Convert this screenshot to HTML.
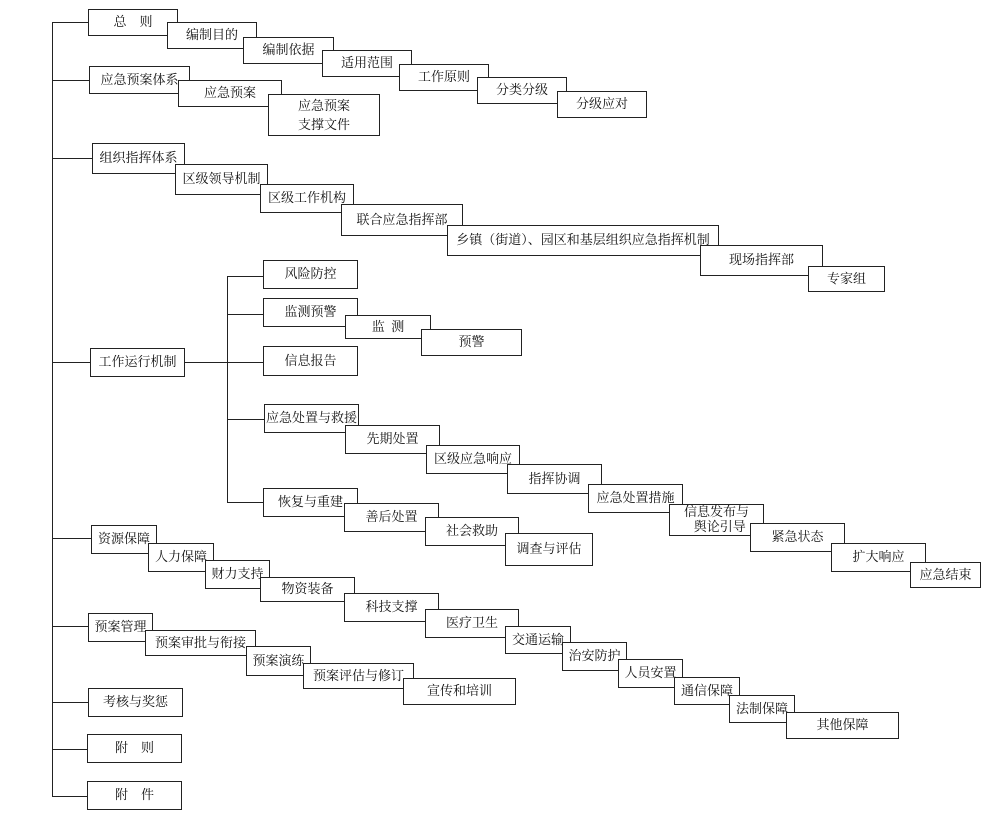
<!DOCTYPE html>
<html><head><meta charset="utf-8"><style>
body{margin:0;background:#fff;}
#c{position:relative;width:987px;height:817px;overflow:hidden;font-family:"Liberation Serif","Noto Serif CJK SC","Noto Sans CJK SC",serif;color:#111;}
.b{position:absolute;border:1.4px solid #222;background:#fff;box-sizing:border-box;font-size:13px;display:flex;align-items:center;justify-content:center;white-space:nowrap;line-height:1.4;padding-top:0px;text-align:center;}
.h{position:absolute;height:1.4px;background:#222;}
.v{position:absolute;width:1.4px;background:#222;}
</style></head><body><div id="c">
<div class="v" style="left:52px;top:22px;height:775px"></div>
<div class="h" style="left:52px;top:22px;width:36px"></div>
<div class="h" style="left:52px;top:80px;width:37px"></div>
<div class="h" style="left:52px;top:158px;width:40px"></div>
<div class="h" style="left:52px;top:362px;width:38px"></div>
<div class="h" style="left:52px;top:538px;width:39px"></div>
<div class="h" style="left:52px;top:626px;width:36px"></div>
<div class="h" style="left:52px;top:702px;width:36px"></div>
<div class="h" style="left:52px;top:749px;width:35px"></div>
<div class="h" style="left:52px;top:796px;width:35px"></div>
<div class="h" style="left:185px;top:362px;width:43px"></div>
<div class="v" style="left:227px;top:276px;height:227px"></div>
<div class="h" style="left:227px;top:276px;width:36px"></div>
<div class="h" style="left:227px;top:314px;width:36px"></div>
<div class="h" style="left:227px;top:362px;width:36px"></div>
<div class="h" style="left:227px;top:419px;width:37px"></div>
<div class="h" style="left:227px;top:502px;width:36px"></div>

<div class="b" style="left:88px;top:9px;width:90px;height:27px">总&nbsp;&nbsp;&nbsp;&nbsp;则</div>
<div class="b" style="left:167px;top:22px;width:90px;height:27px">编制目的</div>
<div class="b" style="left:243px;top:37px;width:91px;height:27px">编制依据</div>
<div class="b" style="left:322px;top:50px;width:90px;height:27px">适用范围</div>
<div class="b" style="left:399px;top:64px;width:90px;height:27px">工作原则</div>
<div class="b" style="left:477px;top:77px;width:90px;height:27px">分类分级</div>
<div class="b" style="left:557px;top:91px;width:90px;height:27px">分级应对</div>

<div class="b" style="left:89px;top:66px;width:101px;height:28px">应急预案体系</div>
<div class="b" style="left:178px;top:80px;width:104px;height:27px">应急预案</div>
<div class="b" style="left:268px;top:94px;width:112px;height:42px;line-height:1.5">应急预案<br>支撑文件</div>

<div class="b" style="left:92px;top:143px;width:93px;height:31px">组织指挥体系</div>
<div class="b" style="left:175px;top:164px;width:93px;height:31px">区级领导机制</div>
<div class="b" style="left:260px;top:184px;width:94px;height:29px">区级工作机构</div>
<div class="b" style="left:341px;top:204px;width:122px;height:32px">联合应急指挥部</div>
<div class="b" style="left:447px;top:225px;width:272px;height:31px">乡镇（街道）、园区和基层组织应急指挥机制</div>
<div class="b" style="left:700px;top:245px;width:123px;height:31px">现场指挥部</div>
<div class="b" style="left:808px;top:266px;width:77px;height:26px">专家组</div>

<div class="b" style="left:90px;top:348px;width:95px;height:29px">工作运行机制</div>
<div class="b" style="left:263px;top:260px;width:95px;height:29px">风险防控</div>
<div class="b" style="left:263px;top:298px;width:95px;height:29px">监测预警</div>
<div class="b" style="left:345px;top:315px;width:86px;height:24px">监&nbsp;&nbsp;测</div>
<div class="b" style="left:421px;top:329px;width:101px;height:27px">预警</div>
<div class="b" style="left:263px;top:346px;width:95px;height:30px">信息报告</div>
<div class="b" style="left:264px;top:404px;width:95px;height:29px">应急处置与救援</div>
<div class="b" style="left:345px;top:425px;width:95px;height:29px">先期处置</div>
<div class="b" style="left:426px;top:445px;width:94px;height:29px">区级应急响应</div>
<div class="b" style="left:507px;top:464px;width:95px;height:30px">指挥协调</div>
<div class="b" style="left:588px;top:484px;width:95px;height:29px">应急处置措施</div>
<div class="b" style="left:669px;top:504px;width:95px;height:32px;line-height:1.15">信息发布与<br>&nbsp;&nbsp;舆论引导</div>
<div class="b" style="left:750px;top:523px;width:95px;height:29px">紧急状态</div>
<div class="b" style="left:831px;top:543px;width:95px;height:29px">扩大响应</div>
<div class="b" style="left:910px;top:562px;width:71px;height:26px">应急结束</div>
<div class="b" style="left:263px;top:488px;width:95px;height:29px">恢复与重建</div>
<div class="b" style="left:344px;top:503px;width:95px;height:29px">善后处置</div>
<div class="b" style="left:425px;top:517px;width:94px;height:29px">社会救助</div>
<div class="b" style="left:505px;top:533px;width:88px;height:33px">调查与评估</div>

<div class="b" style="left:91px;top:525px;width:66px;height:29px">资源保障</div>
<div class="b" style="left:148px;top:543px;width:66px;height:29px">人力保障</div>
<div class="b" style="left:205px;top:560px;width:65px;height:29px">财力支持</div>
<div class="b" style="left:260px;top:577px;width:95px;height:25px">物资装备</div>
<div class="b" style="left:344px;top:593px;width:95px;height:29px">科技支撑</div>
<div class="b" style="left:425px;top:609px;width:94px;height:29px">医疗卫生</div>
<div class="b" style="left:505px;top:626px;width:66px;height:28px">交通运输</div>
<div class="b" style="left:562px;top:642px;width:65px;height:29px">治安防护</div>
<div class="b" style="left:618px;top:659px;width:65px;height:29px">人员安置</div>
<div class="b" style="left:674px;top:677px;width:66px;height:28px">通信保障</div>
<div class="b" style="left:729px;top:695px;width:66px;height:28px">法制保障</div>
<div class="b" style="left:786px;top:712px;width:113px;height:27px">其他保障</div>

<div class="b" style="left:88px;top:613px;width:65px;height:29px">预案管理</div>
<div class="b" style="left:145px;top:630px;width:111px;height:26px">预案审批与衔接</div>
<div class="b" style="left:246px;top:646px;width:65px;height:30px">预案演练</div>
<div class="b" style="left:303px;top:663px;width:111px;height:26px">预案评估与修订</div>
<div class="b" style="left:403px;top:678px;width:113px;height:27px">宣传和培训</div>

<div class="b" style="left:88px;top:688px;width:95px;height:29px">考核与奖惩</div>
<div class="b" style="left:87px;top:734px;width:95px;height:29px">附&nbsp;&nbsp;&nbsp;&nbsp;则</div>
<div class="b" style="left:87px;top:781px;width:95px;height:29px">附&nbsp;&nbsp;&nbsp;&nbsp;件</div>
</div></body></html>
